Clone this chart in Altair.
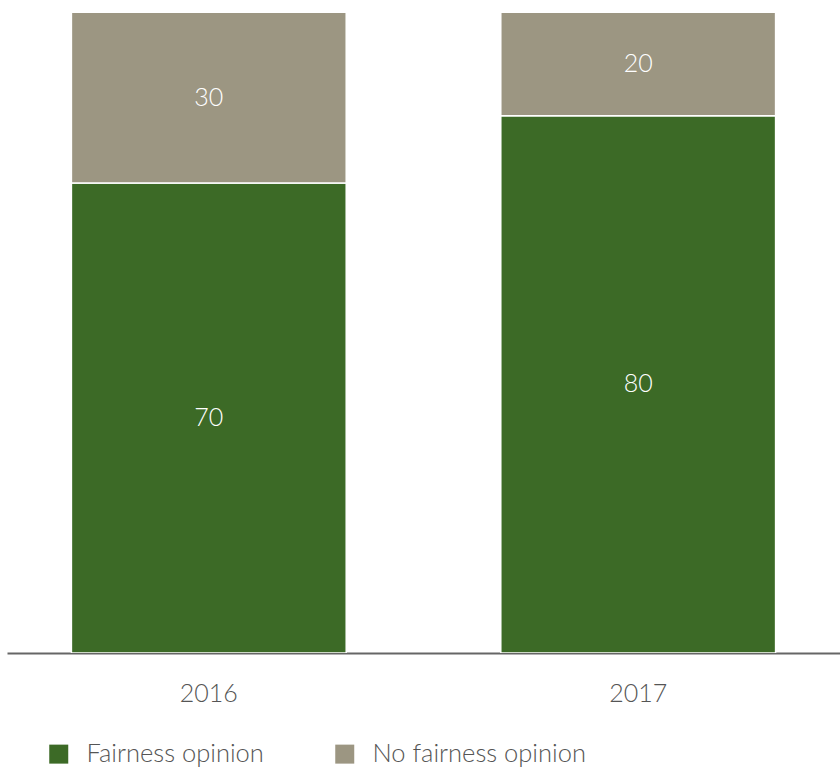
import altair as alt
import pandas as pd

years = ["2016", "2017"]
fairness = [70, 80]
no_fairness = [30, 20]
series_names = ["Fairness opinion", "No fairness opinion"]
colors = ["#3c6a26", "#9c9682"]
y_max = 95.3

rows = []
for i, yr in enumerate(years):
    rows.append({"year": yr, "series": series_names[0], "value": fairness[i], "ord": 0})
    rows.append({"year": yr, "series": series_names[1], "value": no_fairness[i], "ord": 1})
df = pd.DataFrame(rows)

FONT = "Lato"

x_enc = alt.X(
    "year:N",
    scale=alt.Scale(paddingInner=0.36, paddingOuter=0.15),
    axis=alt.Axis(
        title=None, labelAngle=0, ticks=False, domainColor="#666666",
        domainWidth=2, labelFontSize=25, labelFont=FONT, labelFontWeight=300,
        labelColor="#555555", labelPadding=28,
    ),
)
y_scale = alt.Scale(domain=[0, y_max], nice=False, zero=True)

base = alt.Chart(df)

bars = base.mark_bar(clip=True, stroke="white", strokeWidth=1.5).encode(
    x=x_enc,
    y=alt.Y("value:Q", stack="zero", scale=y_scale, axis=None),
    color=alt.Color(
        "series:N",
        scale=alt.Scale(domain=series_names, range=colors),
        legend=alt.Legend(
            title=None, orient="none", legendX=39, legendY=728,
            direction="horizontal", symbolType="square", symbolSize=361,
            symbolStrokeWidth=0, labelFontSize=25.5, labelFont=FONT,
            labelFontWeight=300, labelColor="#555555", labelOffset=15,
            columnPadding=68, padding=0, labelLimit=400,
        ),
    ),
    order=alt.Order("ord:Q"),
)

labels = base.transform_stack(
    stack="value", groupby=["year"], as_=["v0", "v1"],
    sort=[alt.SortField("ord", order="ascending")],
).transform_calculate(
    mid=f"(datum.v0 + min(datum.v1, {y_max})) / 2"
).mark_text(color="white", fontSize=25, font=FONT, fontWeight=300).encode(
    x=alt.X("year:N"),
    y=alt.Y("mid:Q", scale=y_scale, axis=None),
    text=alt.Text("value:Q"),
)

chart = alt.layer(bars, labels).properties(
    width=833, height=640,
    autosize=alt.AutoSizeParams(type="none"),
    padding={"left": 7, "top": 13, "right": 0, "bottom": 114},
).configure_view(strokeWidth=0)

chart.save("out.html", embed_options={"renderer": "svg", "actions": False})
